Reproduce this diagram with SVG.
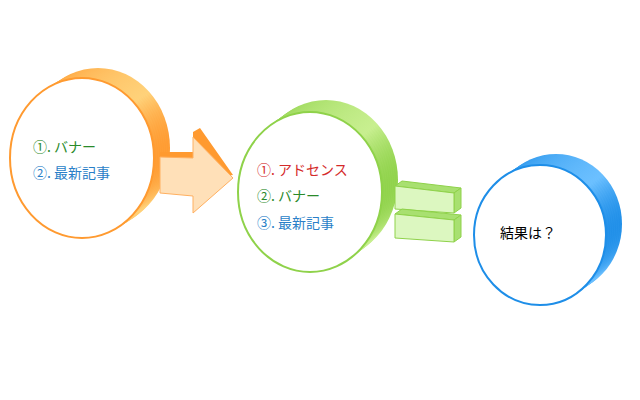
<svg xmlns="http://www.w3.org/2000/svg" width="640" height="400" viewBox="0 0 640 400">
<style>
text{font-family:"Noto Sans CJK JP","Liberation Sans",sans-serif;font-size:14px}
.g{fill:#2a8a2a}.b{fill:#2a7fc8}.r{fill:#d42a2a}
</style>
<defs>
<linearGradient id="og" x1="0" y1="0" x2="1" y2="0"><stop offset="0" stop-color="#ff9a30"/><stop offset="0.85" stop-color="#ffd27a"/><stop offset="1" stop-color="#ff9a30"/></linearGradient>
<linearGradient id="gg" x1="0" y1="0" x2="1" y2="0"><stop offset="0" stop-color="#8fd24a"/><stop offset="0.85" stop-color="#c8ef90"/><stop offset="1" stop-color="#8fd24a"/></linearGradient>
<linearGradient id="bg" x1="0" y1="0" x2="1" y2="0"><stop offset="0" stop-color="#1e8ee8"/><stop offset="0.85" stop-color="#6cc0ff"/><stop offset="1" stop-color="#1e8ee8"/></linearGradient>
<ellipse id="e1" rx="72" ry="80"/>
<ellipse id="e3" rx="66" ry="70"/>
</defs>
<g id="node1" fill="url(#og)">
<use href="#e1" x="98" y="148"/><use href="#e1" x="96" y="149.5"/><use href="#e1" x="94" y="151"/><use href="#e1" x="92" y="152"/><use href="#e1" x="90" y="153"/><use href="#e1" x="88" y="154.5"/><use href="#e1" x="86" y="156"/><use href="#e1" x="84" y="157"/>
<ellipse cx="82" cy="158" rx="72" ry="80" fill="#fff" stroke="#ff9a30" stroke-width="2"/>
<text x="33" y="152" class="g">①. バナー</text>
<text x="33" y="178" class="b">②. 最新記事</text>
</g>
<g id="node2" fill="url(#gg)">
<use href="#e1" x="326" y="180"/><use href="#e1" x="324" y="181.5"/><use href="#e1" x="322" y="183"/><use href="#e1" x="320" y="184.5"/><use href="#e1" x="318" y="186"/><use href="#e1" x="316" y="187.5"/><use href="#e1" x="314" y="189"/><use href="#e1" x="312" y="190.5"/>
<ellipse cx="310" cy="192" rx="72" ry="80" fill="#fff" stroke="#8fd24a" stroke-width="2"/>
<text x="257" y="175" class="r">①. アドセンス</text>
<text x="257" y="201" class="g">②. バナー</text>
<text x="257" y="228" class="b">③. 最新記事</text>
</g>
<g id="node3" fill="url(#bg)">
<use href="#e3" x="556" y="224"/><use href="#e3" x="554" y="225.4"/><use href="#e3" x="552" y="226.8"/><use href="#e3" x="550" y="228.2"/><use href="#e3" x="548" y="229.6"/><use href="#e3" x="546" y="231"/><use href="#e3" x="544" y="232.4"/><use href="#e3" x="542" y="233.8"/>
<ellipse cx="540" cy="235" rx="66" ry="70" fill="#fff" stroke="#1e8ee8" stroke-width="2"/>
<text x="500" y="238" fill="#000">結果は？</text>
</g>
<g id="connectors">
<polygon points="160,152 193,152 193,132 200,128 233,175 226,176 160,158" fill="#ff9a30"/>
<polygon points="160,157 193,158 193,137 233,178 193,213 193,196 160,193" fill="#ffe0b8" stroke="#ffb060" stroke-width="1"/>
<g fill="#dcf7c0" stroke="#8fd24a" stroke-width="1">
<polygon points="395,186 402,181 461,188 454,193" fill="#a8e070"/>
<polygon points="454,193 461,188 461,208 454,213" fill="#a8e070"/>
<polygon points="395,186 454,193 454,213 395,209"/>
<polygon points="395,214 402,209 461,215 454,220" fill="#a8e070"/>
<polygon points="454,220 461,215 461,237 454,242" fill="#a8e070"/>
<polygon points="395,214 454,220 454,242 395,238"/>
</g>
</g>
</svg>
